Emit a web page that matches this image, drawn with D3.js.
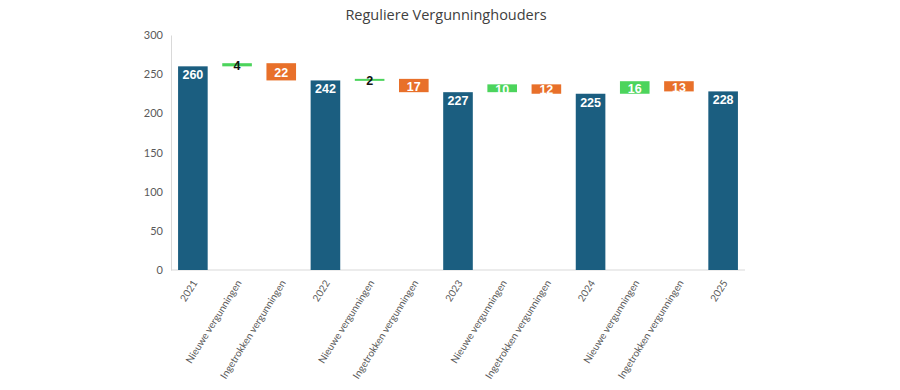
<!DOCTYPE html>
<html><head><meta charset="utf-8">
<script src="https://cdn.jsdelivr.net/npm/d3@7"></script>
<style>body{margin:0;background:#fff;} svg{display:block;}</style>
</head><body>
<svg id="chart" width="900" height="390"></svg>
<script>
const categories = ["2021","Nieuwe vergunningen","Ingetrokken vergunningen","2022","Nieuwe vergunningen","Ingetrokken vergunningen","2023","Nieuwe vergunningen","Ingetrokken vergunningen","2024","Nieuwe vergunningen","Ingetrokken vergunningen","2025"];
const values = [260, 4, -22, 242, 2, -17, 227, 10, -12, 225, 16, -13, 228];
const types = ["total","increase","decrease","total","increase","decrease","total","increase","decrease","total","increase","decrease","total"];
const yTicks = [0,50,100,150,200,250,300];
const title = "Reguliere Vergunninghouders";

const colors = {total:"#1b5e80", increase:"#4cd45c", decrease:"#e8702a"};
const svg = d3.select("#chart");
const margin = {left:171, right:155, top:35, bottom:120};
const W = 900, H = 390;
const x = d3.scaleBand().domain(d3.range(categories.length)).range([margin.left, W - margin.right]).paddingInner(0.33).paddingOuter(0.16);
const y = d3.scaleLinear().domain([0,300]).range([H - margin.bottom, margin.top]);

let running = 0;
const segs = values.map((v,i) => {
  let lo, hi;
  if (types[i] === "total") { lo = 0; hi = v; running = v; }
  else if (v >= 0) { lo = running; hi = running + v; running = hi; }
  else { hi = running; lo = running + v; running = lo; }
  return {i, v, lo, hi, type: types[i]};
});

svg.append("text").attr("x", 446).attr("y", 20).attr("text-anchor","middle")
  .attr("font-family","Open Sans, Lato, sans-serif").attr("font-size", 14.5).attr("fill","#404040").text(title);

const yAxis = svg.append("g").attr("transform", `translate(${margin.left},0)`)
  .call(d3.axisLeft(y).tickValues(yTicks).tickSize(0).tickPadding(8));
yAxis.select(".domain").attr("stroke","#d9d9d9");
yAxis.selectAll("text").attr("font-family","Lato, sans-serif").attr("font-size",11).attr("fill","#595959");

const xAxis = svg.append("g").attr("transform", `translate(0,${y(0)})`)
  .call(d3.axisBottom(x).tickFormat(i => categories[i]).tickSize(0).tickPadding(0));
xAxis.select(".domain").attr("stroke","#d9d9d9").attr("d", `M${margin.left},0H${W - margin.right}`);
xAxis.selectAll("text").attr("font-family","Lato, sans-serif").attr("font-size",10).attr("fill","#595959")
  .attr("text-anchor","end").attr("y",0).attr("dx","0").attr("dy","0.35em")
  .attr("transform","translate(2,11) rotate(-58)");

svg.append("g").selectAll("rect").data(segs).join("rect")
  .attr("x", d => x(d.i)).attr("width", x.bandwidth())
  .attr("y", d => y(d.hi)).attr("height", d => Math.max(2, y(d.lo) - y(d.hi)))
  .attr("fill", d => colors[d.type]);

svg.append("g").selectAll("text").data(segs).join("text")
  .attr("x", d => x(d.i) + x.bandwidth()/2)
  .attr("y", d => d.type === "total" ? y(d.hi) + 13 : (y(d.hi) + y(d.lo))/2 + 1)
  .attr("dy", d => d.type === "total" ? 0 : "0.35em")
  .attr("text-anchor","middle")
  .attr("font-family","Liberation Sans, Arial, sans-serif").attr("font-weight","bold").attr("font-size",12.5)
  .attr("fill", d => Math.abs(d.v) < 5 ? "#111" : "#fff")
  .text(d => Math.abs(d.v));
</script>
</body></html>
